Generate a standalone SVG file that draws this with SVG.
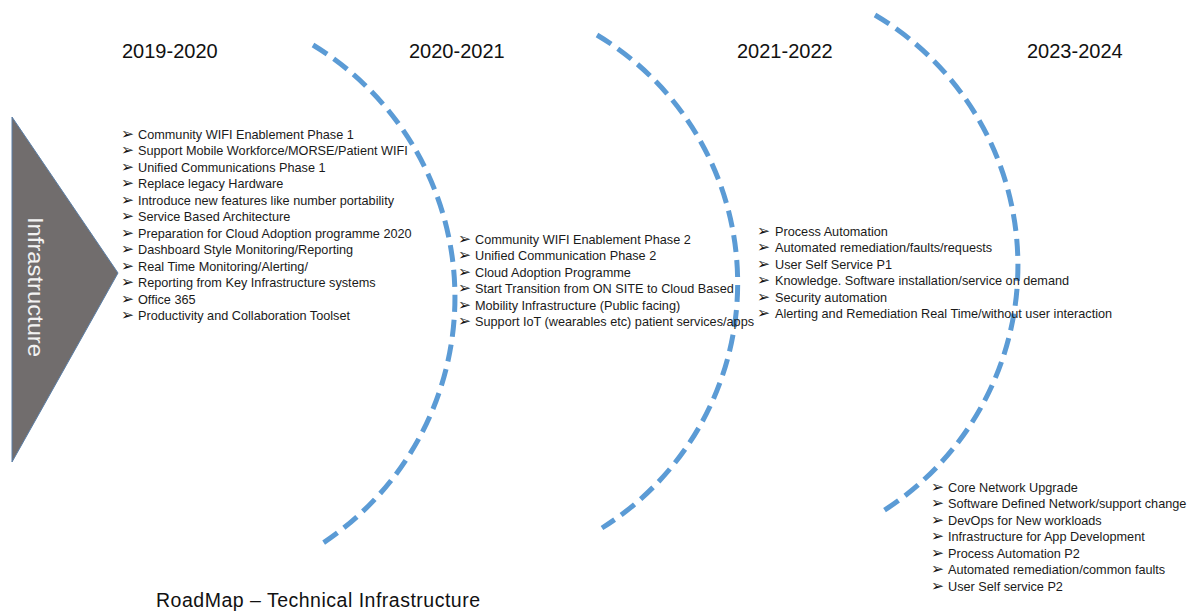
<svg xmlns="http://www.w3.org/2000/svg" width="1199" height="612" viewBox="0 0 1199 612">
<style>
.yr{font-family:"Liberation Sans",Arial,sans-serif;font-size:20px;fill:#111;}
.li{font-family:"Liberation Sans",Arial,sans-serif;font-size:12.7px;fill:#1a1a1a;}
.bu{font-family:"DejaVu Sans",sans-serif;font-size:15.5px;fill:#111;}
.arc{fill:none;stroke:#5B9BD5;stroke-width:5;stroke-dasharray:17 8;}
.ttl{font-family:"Liberation Sans",Arial,sans-serif;font-size:19.5px;fill:#111;}
</style>
<rect width="1199" height="612" fill="#fff"/>
<g id="infrastructure">
<polygon points="12,117 118,273 12,462" fill="#716D6D" stroke="#5B7FA8" stroke-width="1"/>
<text transform="translate(28,217) rotate(90)" font-family="Liberation Sans,Arial,sans-serif" font-size="22" fill="#F2F2F2" textLength="140" lengthAdjust="spacingAndGlyphs">Infrastructure</text>
</g>
<g id="connectors">
<path class="arc" d="M313,45 A295,295 0 0 1 320,545"/>
<path class="arc" d="M597,35 A289,289 0 0 1 602,528"/>
<path class="arc" d="M875,15 A291,291 0 0 1 880,513"/>
</g>
<g id="years">
<text class="yr" x="122" y="58">2019-2020</text>
<text class="yr" x="409" y="58">2020-2021</text>
<text class="yr" x="737" y="58">2021-2022</text>
<text class="yr" x="1027" y="58">2023-2024</text>
</g>
<g id="list-2019">
<g class="bu"><text x="121" y="138.5">➢</text><text x="121" y="155">➢</text><text x="121" y="171.5">➢</text><text x="121" y="188">➢</text><text x="121" y="204.5">➢</text><text x="121" y="221">➢</text><text x="121" y="237.5">➢</text><text x="121" y="254">➢</text><text x="121" y="270.5">➢</text><text x="121" y="287">➢</text><text x="121" y="303.5">➢</text><text x="121" y="320">➢</text></g>
<g class="li">
<text x="138" y="138.5">Community WIFI Enablement Phase 1</text>
<text x="138" y="155">Support Mobile Workforce/MORSE/Patient WIFI</text>
<text x="138" y="171.5">Unified Communications Phase 1</text>
<text x="138" y="188">Replace legacy Hardware</text>
<text x="138" y="204.5">Introduce new features like number portability</text>
<text x="138" y="221">Service Based Architecture</text>
<text x="138" y="237.5">Preparation for Cloud Adoption programme 2020</text>
<text x="138" y="254">Dashboard Style Monitoring/Reporting</text>
<text x="138" y="270.5">Real Time Monitoring/Alerting/</text>
<text x="138" y="287">Reporting from Key Infrastructure systems</text>
<text x="138" y="303.5">Office 365</text>
<text x="138" y="320">Productivity and Collaboration Toolset</text>
</g>
</g>
<g id="list-2020">
<g class="bu"><text x="458" y="243.5">➢</text><text x="458" y="260">➢</text><text x="458" y="276.5">➢</text><text x="458" y="293">➢</text><text x="458" y="309.5">➢</text><text x="458" y="326">➢</text></g>
<g class="li">
<text x="475" y="243.5">Community WIFI Enablement Phase 2</text>
<text x="475" y="260">Unified Communication Phase 2</text>
<text x="475" y="276.5">Cloud Adoption Programme</text>
<text x="475" y="293">Start Transition from ON SITE to Cloud Based</text>
<text x="475" y="309.5">Mobility Infrastructure (Public facing)</text>
<text x="475" y="326">Support IoT (wearables etc) patient services/apps</text>
</g>
</g>
<g id="list-2021">
<g class="bu"><text x="757" y="235.5">➢</text><text x="757" y="252">➢</text><text x="757" y="268.5">➢</text><text x="757" y="285">➢</text><text x="757" y="301.5">➢</text><text x="757" y="318">➢</text></g>
<g class="li">
<text x="775" y="235.5">Process Automation</text>
<text x="775" y="252">Automated remediation/faults/requests</text>
<text x="775" y="268.5">User Self Service P1</text>
<text x="775" y="285">Knowledge. Software installation/service on demand</text>
<text x="775" y="301.5">Security automation</text>
<text x="775" y="318">Alerting and Remediation Real Time/without user interaction</text>
</g>
</g>
<g id="list-2023">
<g class="bu"><text x="931" y="491.5">➢</text><text x="931" y="508">➢</text><text x="931" y="524.5">➢</text><text x="931" y="541">➢</text><text x="931" y="557.5">➢</text><text x="931" y="574">➢</text><text x="931" y="590.5">➢</text></g>
<g class="li">
<text x="948" y="491.5">Core Network Upgrade</text>
<text x="948" y="508">Software Defined Network/support change</text>
<text x="948" y="524.5">DevOps for New workloads</text>
<text x="948" y="541">Infrastructure for App Development</text>
<text x="948" y="557.5">Process Automation P2</text>
<text x="948" y="574">Automated remediation/common faults</text>
<text x="948" y="590.5">User Self service P2</text>
</g>
</g>
<g id="title">
<text class="ttl" x="156" y="607" textLength="324">RoadMap – Technical Infrastructure</text>
</g>
</svg>
